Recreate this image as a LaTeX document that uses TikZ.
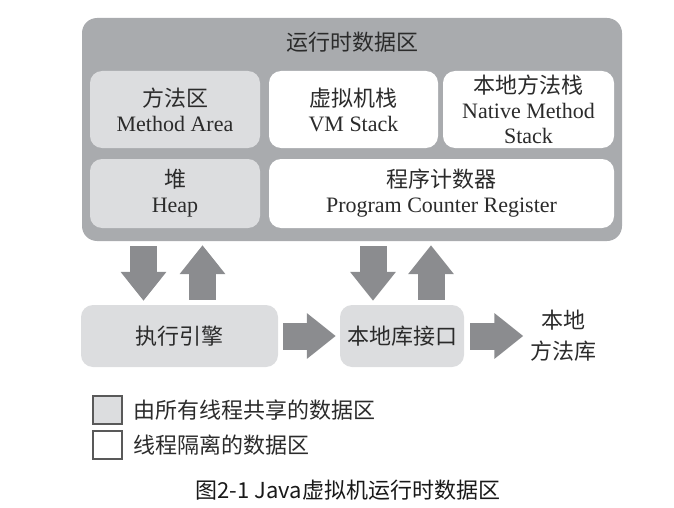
\documentclass[tikz,border=0pt]{standalone}
\usepackage{fontspec}
\setmainfont{Liberation Serif}
\newfontfamily\cjk{Noto Sans CJK SC}
\usetikzlibrary{arrows.meta}
\definecolor{areagrey}{HTML}{A9ABAE}
\definecolor{sharedgrey}{HTML}{DCDDDF}
\definecolor{arrowgrey}{HTML}{8B8C8F}
\definecolor{textgrey}{HTML}{2B2B2B}
\begin{document}
\begin{tikzpicture}[x=1pt,y=-1pt,
  every node/.style={font=\fontsize{22}{25}\selectfont,text=textgrey,align=center,inner sep=0pt},
  shared/.style={fill=sharedgrey,rounded corners=12pt},
  private/.style={fill=white,rounded corners=12pt},
  fat/.style={draw=arrowgrey,line width=27pt,-{Triangle[width=44pt,length=29pt]},shorten >=4pt,shorten <=5pt},
  key/.style={draw=black!65,line width=1.2pt,minimum width=29pt,minimum height=28pt}]
\useasboundingbox (0,0) rectangle (674,508);
% runtime data area
\node[fill=areagrey,rounded corners=15pt,minimum width=540pt,minimum height=223pt] (rt) at (352,129.5) {};
\node (rttitle) at (352,42) {\cjk 运行时数据区};
\node[shared,minimum width=170pt,minimum height=77pt] (method) at (175,109.5) {{\cjk 方法区}\\Method Area};
\node[private,minimum width=169pt,minimum height=77pt] (vmstack) at (353.5,109.5) {{\cjk 虚拟机栈}\\VM Stack};
\node[private,minimum width=171pt,minimum height=77pt] (nativestack) at (528.5,109.5) {{\cjk 本地方法栈}\\Native Method\\Stack};
\node[shared,minimum width=170pt,minimum height=69pt] (heap) at (175,193.5) {{\cjk 堆}\\Heap};
\node[private,minimum width=345pt,minimum height=69pt] (pc) at (441.5,193.5) {{\cjk 程序计数器}\\Program Counter Register};
% engine and native interface
\node[shared,minimum width=197pt,minimum height=62pt] (exec) at (179.5,336) {\cjk 执行引擎};
\node[shared,minimum width=124pt,minimum height=62pt] (lib) at (402,336) {\cjk 本地库接口};
\node[font=\fontsize{22}{31}\selectfont] (natlib) at (563.5,336) {\cjk 本地\\\cjk 方法库};
% block arrows
\draw[fat] ([xshift=-36pt]exec.north |- rt.south) -- ([xshift=-36pt]exec.north);
\draw[fat] ([xshift=23pt]exec.north) -- ([xshift=23pt]exec.north |- rt.south);
\draw[fat] ([xshift=-29pt]lib.north |- rt.south) -- ([xshift=-29pt]lib.north);
\draw[fat] ([xshift=29pt]lib.north) -- ([xshift=29pt]lib.north |- rt.south);
\draw[fat] (exec) -- (lib);
\draw[fat,shorten <=6pt,shorten >=7pt] (lib) -- (natlib);
% legend
\node[key,fill=sharedgrey] (keyshared) at (107.5,410) {};
\node[key,fill=white] (keyprivate) at (107.5,445) {};
\node[anchor=west] (txtshared) at (133,410) {\cjk 由所有线程共享的数据区};
\node[anchor=west] (txtprivate) at (133,445) {\cjk 线程隔离的数据区};
% caption
\node[text=black!90] (caption) at (348,490) {\cjk 图2-1 Java虚拟机运行时数据区};
\end{tikzpicture}
\end{document}
